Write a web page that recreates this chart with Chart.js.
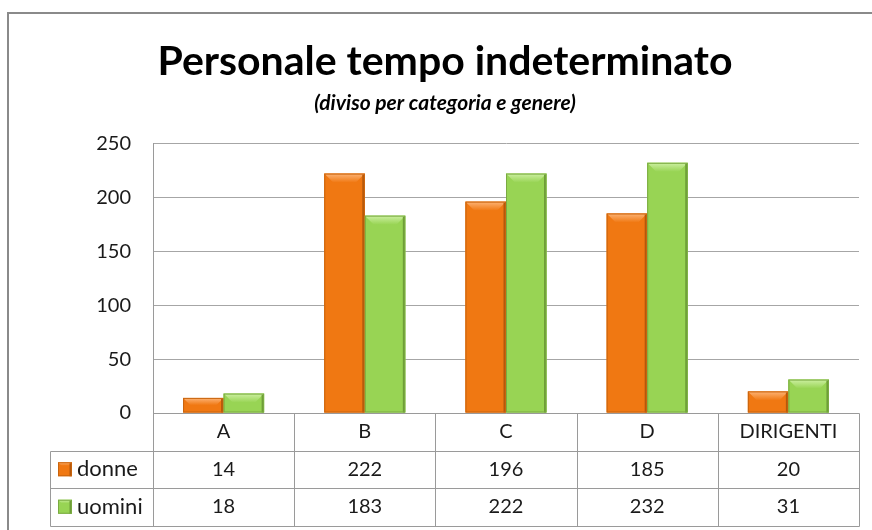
<!DOCTYPE html>
<html>
<head>
<meta charset="utf-8">
<script src="https://cdn.jsdelivr.net/npm/chart.js@4"></script>
<style>
  html, body { margin: 0; padding: 0; background: #fff; }
  #wrap { width: 872px; height: 530px; position: relative; }
</style>
</head>
<body>
<div id="wrap"><canvas id="chart" width="872" height="530"></canvas></div>
<script>
const categories = ['A', 'B', 'C', 'D', 'DIRIGENTI'];
const donne = [14, 222, 196, 185, 20];
const uomini = [18, 183, 222, 232, 31];
const seriesNames = ['donne', 'uomini'];

const palette = [
    { body: '#F07812', light: '#FDB476', dark: '#B4580C', border: '#C8640E' },
    { body: '#98D454', light: '#CDF0A2', dark: '#6E9E38', border: '#7AAA42' }
];

function drawBevel(ctx, left, top, right, bottom, c) {
    const w = right - left;
    const b = Math.min(9, w / 4, (bottom - top) / 2);
    ctx.fillStyle = c.body;
    ctx.fillRect(left, top, w, bottom - top);
    // top bevel
    const g = ctx.createLinearGradient(0, top, 0, top + b);
    g.addColorStop(0, c.light);
    g.addColorStop(1, c.body);
    ctx.fillStyle = g;
    ctx.beginPath();
    ctx.moveTo(left, top);
    ctx.lineTo(right, top);
    ctx.lineTo(right - b, top + b);
    ctx.lineTo(left + b, top + b);
    ctx.closePath();
    ctx.fill();
    // right edge shade
    ctx.fillStyle = c.dark;
    ctx.fillRect(right - 2.5, top + 1, 2, bottom - top - 1);
    ctx.strokeStyle = c.border;
    ctx.lineWidth = 1;
    ctx.strokeRect(left + 0.5, top + 0.5, w - 1, bottom - top - 1);
}

const framePlugin = {
    id: 'frame',
    beforeDraw(chart) {
        const ctx = chart.ctx;
        ctx.save();
        ctx.fillStyle = '#fff';
        ctx.fillRect(0, 0, chart.width, chart.height);
        ctx.strokeStyle = '#8a8a8a';
        ctx.lineWidth = 2;
        ctx.strokeRect(8, 13, chart.width + 10, chart.height + 10);
        ctx.restore();
    }
};

const bevelPlugin = {
    id: 'bevel',
    afterDatasetsDraw(chart) {
        const ctx = chart.ctx;
        ctx.save();
        chart.data.datasets.forEach((ds, di) => {
            chart.getDatasetMeta(di).data.forEach(bar => {
                const p = bar.getProps(['x', 'y', 'base', 'width'], true);
                drawBevel(ctx, p.x - p.width / 2, p.y, p.x + p.width / 2, p.base, palette[di]);
            });
        });
        ctx.restore();
    }
};

const tablePlugin = {
    id: 'dataTable',
    afterDraw(chart) {
        const ctx = chart.ctx;
        const area = chart.chartArea;
        const x = chart.scales.x;
        const n = categories.length;
        const colW = (area.right - area.left) / n;
        const rowH = 37.5;
        const top = area.bottom;
        const labelLeft = area.left - 103;
        const rows = [donne, uomini];
        ctx.save();
        ctx.strokeStyle = '#9a9a9a';
        ctx.lineWidth = 1;
        const line = (x1, y1, x2, y2) => {
            ctx.beginPath();
            ctx.moveTo(Math.round(x1) + 0.5, Math.round(y1) + 0.5);
            ctx.lineTo(Math.round(x2) + 0.5, Math.round(y2) + 0.5);
            ctx.stroke();
        };
        line(area.left, top, area.right, top);
        for (let r = 1; r <= 3; r++) {
            line(labelLeft, top + r * rowH, area.right, top + r * rowH);
        }
        line(labelLeft, top + rowH, labelLeft, top + 3 * rowH);
        for (let i = 0; i <= n; i++) {
            line(area.left + i * colW, top, area.left + i * colW, top + 3 * rowH);
        }
        ctx.fillStyle = '#1a1a1a';
        ctx.font = '20px Lato';
        ctx.textAlign = 'center';
        ctx.textBaseline = 'middle';
        categories.forEach((c, i) => {
            ctx.fillText(c, x.getPixelForValue(i), top + rowH / 2);
        });
        rows.forEach((vals, r) => {
            const cy = top + rowH * (r + 1.5);
            ctx.font = '20px Lato';
            ctx.textAlign = 'center';
            ctx.fillStyle = '#1a1a1a';
            vals.forEach((v, i) => {
                ctx.fillText(String(v), x.getPixelForValue(i), cy);
            });
            drawBevel(ctx, labelLeft + 8, cy - 7, labelLeft + 22, cy + 7, palette[r]);
            ctx.textAlign = 'left';
            ctx.fillStyle = '#1a1a1a';
            ctx.font = '22px Lato';
            ctx.fillText(seriesNames[r], labelLeft + 27, cy);
        });
        ctx.restore();
    }
};

new Chart(document.getElementById('chart').getContext('2d'), {
    type: 'bar',
    data: {
        labels: categories,
        datasets: [
            { label: seriesNames[0], data: donne, backgroundColor: palette[0].body },
            { label: seriesNames[1], data: uomini, backgroundColor: palette[1].body }
        ]
    },
    options: {
        responsive: false,
        animation: false,
        devicePixelRatio: 1,
        layout: { padding: { left: 31, right: 13, top: 0, bottom: 117 } },
        datasets: { bar: { categoryPercentage: 0.574, barPercentage: 1 } },
        plugins: {
            legend: { display: false },
            tooltip: { enabled: false },
            title: {
                display: true,
                text: 'Personale tempo indeterminato',
                color: '#000',
                font: { family: 'Lato', size: 41, weight: 'bold' },
                padding: { top: 37, bottom: 4 }
            },
            subtitle: {
                display: true,
                text: '(diviso per categoria e genere)',
                color: '#000',
                font: { family: 'Lato', size: 21, weight: 'bold', style: 'italic' },
                padding: { top: 0, bottom: 28 }
            }
        },
        scales: {
            x: { display: false },
            y: {
                min: 0,
                max: 250,
                afterFit(s) { s.width = 122; },
                ticks: {
                    stepSize: 50,
                    color: '#1a1a1a',
                    font: { family: 'Lato', size: 20 },
                    padding: 22
                },
                grid: { color: '#a6a6a6', drawTicks: false },
                border: { display: true, color: '#9a9a9a' }
            }
        }
    },
    plugins: [framePlugin, bevelPlugin, tablePlugin]
});
</script>
</body>
</html>
